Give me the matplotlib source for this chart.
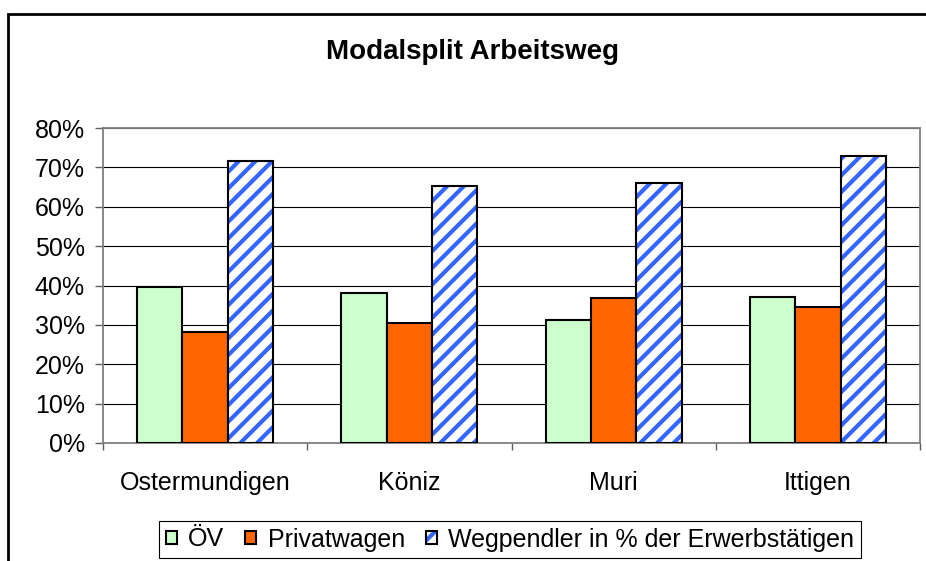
import matplotlib.pyplot as plt
import matplotlib.patches as mpatches
import matplotlib.ticker as ticker
from matplotlib.legend_handler import HandlerTuple
import numpy as np

gemeinden = ['Ostermundigen', 'Köniz', 'Muri', 'Ittigen']
oev = [0.396, 0.381, 0.312, 0.370]
privatwagen = [0.282, 0.305, 0.368, 0.346]
wegpendler = [0.716, 0.652, 0.661, 0.730]
series_names = ['ÖV', 'Privatwagen', 'Wegpendler in % der Erwerbstätigen']
y_ticks = [0, 0.1, 0.2, 0.3, 0.4, 0.5, 0.6, 0.7, 0.8]


def plotting():
    plt.rcParams['font.family'] = ['Liberation Sans', 'DejaVu Sans']
    plt.rcParams['hatch.linewidth'] = 3.0

    fig = plt.figure(figsize=(9.26, 5.61), dpi=100)
    ax = fig.add_axes([103 / 926, 1 - 443 / 561, 817 / 926, 315 / 561])

    x = np.arange(len(gemeinden))
    w = 2 / 9

    ax.bar(x - w, oev, w, color='#CCFFCC', edgecolor='black', lw=1.5, zorder=3)
    ax.bar(x, privatwagen, w, color='#FF6600', edgecolor='black', lw=1.5, zorder=3)
    ax.bar(x + w, wegpendler, w, color='white', edgecolor='#3366FF', hatch='//',
           lw=0, zorder=3)
    ax.bar(x + w, wegpendler, w, fill=False, edgecolor='black', lw=1.5, zorder=4)

    ax.set_xlim(-0.5, len(gemeinden) - 0.5)
    ax.set_ylim(0, 0.8)
    ax.set_yticks(y_ticks)
    ax.yaxis.set_major_formatter(ticker.FuncFormatter(lambda v, pos: '{:.0f}%'.format(v * 100)))
    ax.set_xticks(x)
    ax.set_xticklabels(gemeinden)
    ax.set_xticks(np.arange(len(gemeinden) + 1) - 0.5, minor=True)

    ax.yaxis.grid(True, color='black', lw=0.8)
    ax.set_axisbelow(True)
    for s in ax.spines.values():
        s.set_color('#808080')
        s.set_linewidth(1.3)

    ax.tick_params(axis='y', labelsize=18, length=6, width=1, color='#606060',
                   direction='out', pad=7)
    ax.tick_params(axis='x', which='major', labelsize=18, length=0, pad=20)
    ax.tick_params(axis='x', which='minor', length=5, width=1, color='#606060',
                   direction='out')

    fig.text(473 / 926, 1 - 52 / 561, 'Modalsplit Arbeitsweg', ha='center', va='center',
             fontsize=20, fontweight='bold')

    # outer chart border, right and bottom edge lie outside the picture
    fig.patches.append(mpatches.Rectangle((8 / 926, -0.2), 1.2, 1.2 - 14 / 561,
                                          transform=fig.transFigure, fill=False,
                                          edgecolor='black', lw=2))

    h1 = mpatches.Patch(facecolor='#CCFFCC', edgecolor='black', lw=1.5)
    h2 = mpatches.Patch(facecolor='#FF6600', edgecolor='black', lw=1.5)
    h3a = mpatches.Patch(facecolor='white', edgecolor='#3366FF', hatch='//', lw=0)
    h3b = mpatches.Patch(fill=False, edgecolor='black', lw=1.5)
    leg = fig.legend([h1, h2, (h3a, h3b)], series_names, ncol=3, loc='center',
                     bbox_to_anchor=(510 / 926, 1 - 539.5 / 561),
                     bbox_transform=fig.transFigure, fontsize=18,
                     handler_map={tuple: HandlerTuple(ndivide=1)},
                     handlelength=0.44, handleheight=0.44, handletextpad=0.45,
                     columnspacing=0.85, borderpad=0.25, fancybox=False, framealpha=1)
    leg.get_frame().set_edgecolor('black')
    leg.get_frame().set_linewidth(0.8)

    plt.savefig('out.png', dpi=100)


if __name__ == '__main__':
    plotting()
